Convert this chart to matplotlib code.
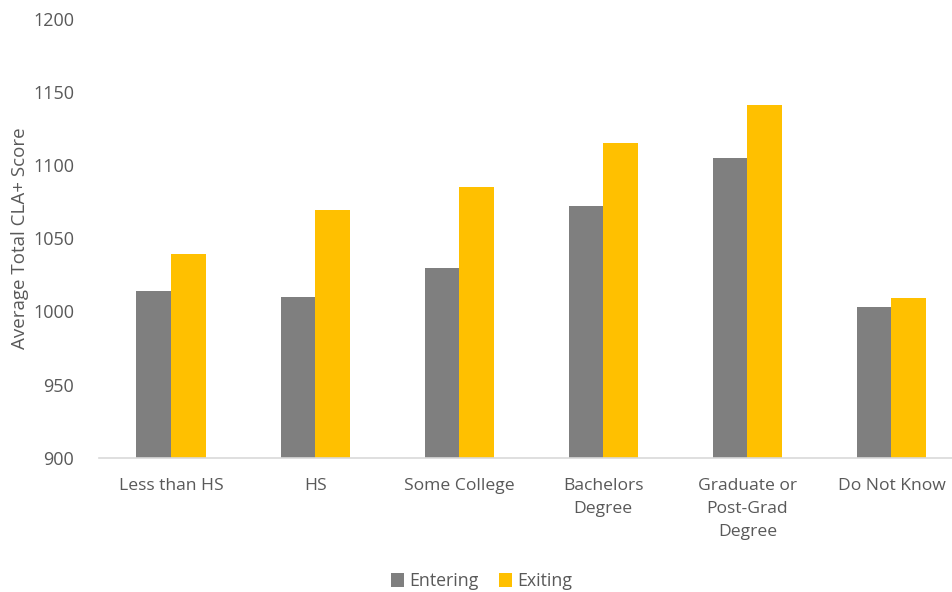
import numpy as np
import matplotlib.pyplot as plt

categories = ['Less than HS', 'HS', 'Some College', 'Bachelors\nDegree',
              'Graduate or\nPost-Grad\nDegree', 'Do Not Know']
entering = [1014, 1010, 1030, 1072, 1105, 1003]
exiting = [1039, 1069, 1085, 1115, 1141, 1009]

plt.rcParams['font.family'] = ['Open Sans', 'DejaVu Sans']
txt = '#595959'

fig = plt.figure(figsize=(9.52, 5.92), dpi=100)
ax = fig.add_axes([0.104, 0.227, 0.896, 0.741])

x = np.arange(len(categories))
w = 0.24
ax.bar(x - w / 2, entering, w, color='#7F7F7F', label='Entering')
ax.bar(x + w / 2, exiting, w, color='#FFC000', label='Exiting')

ax.set_ylim(900, 1200)
ax.set_xlim(-0.5, 5.42)
ax.set_yticks(range(900, 1201, 50))
ax.set_xticks(x)
ax.set_xticklabels(categories, fontsize=12.6, color=txt, linespacing=1.55)
ax.tick_params(axis='y', labelsize=13, colors=txt, length=0, pad=18)
ax.tick_params(axis='x', length=0, pad=15)
ax.set_ylabel('Average Total CLA+ Score', fontsize=13.5, color=txt)
ax.yaxis.set_label_coords(-0.082, 0.5)

for s in ['top', 'right', 'left']:
    ax.spines[s].set_visible(False)
ax.spines['bottom'].set_color('#D9D9D9')
ax.spines['bottom'].set_linewidth(1.2)

fig.legend(loc='lower center', bbox_to_anchor=(0.506, -0.024), ncol=2, frameon=False,
           fontsize=12.8, labelcolor=txt, handlelength=0.75, handleheight=0.75,
           handletextpad=0.3, columnspacing=1.1)

plt.savefig('out.png', dpi=100)
